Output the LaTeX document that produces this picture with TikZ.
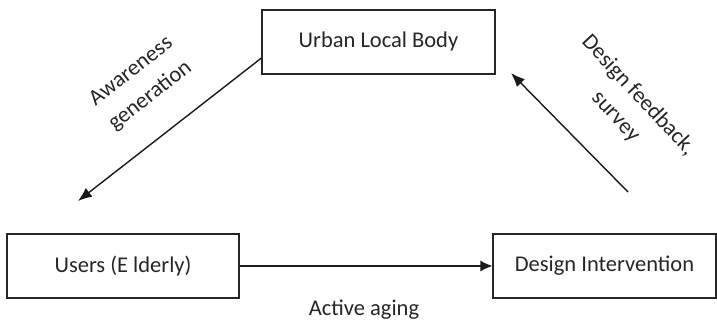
\documentclass[tikz,border=0pt]{standalone}
\usepackage{fontspec}
\setmainfont{Carlito}
\usetikzlibrary{arrows.meta}
\begin{document}
\begin{tikzpicture}[x=1pt,y=-1pt,
  box/.style={draw=black!85, line width=1.1pt, minimum height=64pt, inner sep=0pt,
              font=\fontsize{22.5}{26}\selectfont, text=black!85},
  flow/.style={draw=black!90, line width=1.4pt, -{Latex[length=14pt,width=11pt]}},
  lbl/.style={font=\fontsize{22.5}{31}\selectfont, text=black!85, align=center, inner sep=0pt}]
  \useasboundingbox (0,0) rectangle (717,321);
  % the three actors
  \node[box, minimum width=233pt] (ulb) at (378.5,42) {Urban Local Body};
  \node[box, minimum width=232pt] (users) at (123,266) {Users (E lderly)};
  \node[box, minimum width=223pt] (design) at (604.5,266) {Design Intervention};
  % free arrow ends
  \coordinate (awEnd) at (78,201);
  \coordinate (fbStart) at (628,192);
  \coordinate (fbEnd) at (511,73);
  % connectors
  \draw[flow] (ulb.west |- 0,58) -- (awEnd);
  \draw[flow] (fbStart) -- (fbEnd);
  \draw[flow, -{Latex[length=12pt,width=11pt]}] (users.east) -- (design.west);
  % connector labels
  \node[lbl, rotate=38] (awLbl) at (141,84) {Awareness\\generation};
  \node[lbl, rotate=-47] (fbLbl) at (627,106) {Design feedback,\\survey};
  \node[lbl] (agLbl) at (364,310) {Active aging};
\end{tikzpicture}
\end{document}
